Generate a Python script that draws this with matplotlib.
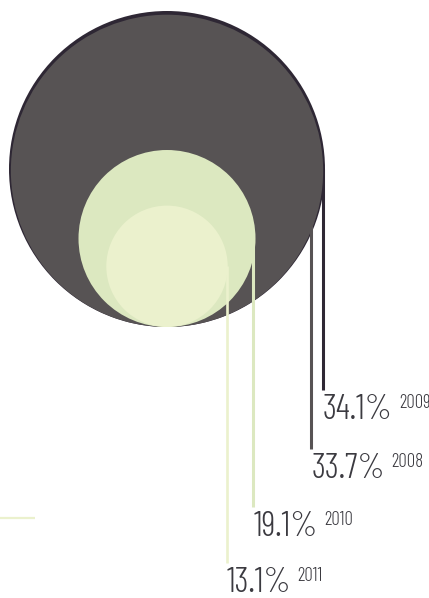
import matplotlib
matplotlib.use("Agg")
import matplotlib.pyplot as plt
from matplotlib.patches import Circle

# Share values by year, drawn from largest to smallest
years = ["2009", "2008", "2010", "2011"]
values = [34.1, 33.7, 19.1, 13.1]
colors = ["#2e2734", "#575354", "#dce8c0", "#ebf1cd"]

W, H = 429, 598
fig = plt.figure(figsize=(W / 100, H / 100), dpi=100)
ax = fig.add_axes([0, 0, 1, 1])
ax.set_xlim(0, W)
ax.set_ylim(H, 0)
ax.set_aspect("equal")
ax.axis("off")

# Circles share a common bottom point; radius is proportional to the value
cx, bottom = 167.0, 327.0
scale = 158.0 / max(values)

# Leader-line insets from each circle's right edge and label baselines
insets = [2, 12, 2, 1]
baselines = [419, 478, 536, 592]
line_w = [2.2, 2.2, 2.2, 1.9]
text_color = "#3b3a40"
font = ["Barlow Condensed", "DejaVu Sans"]
main_pt, sup_pt = 25.0, 13.5
cap_ratio = 0.70  # cap height / em for the label face
px_per_pt = 100 / 72
main_cap = main_pt * px_per_pt * cap_ratio
sup_cap = sup_pt * px_per_pt * cap_ratio

labels = []
for i, (yr, v, c) in enumerate(zip(years, values, colors)):
    r = v * scale
    cy = bottom - r
    ax.add_patch(Circle((cx, cy), r, facecolor=c, edgecolor="none", zorder=2 * i))
    lx = cx + r - insets[i]
    ax.plot([lx, lx], [cy, baselines[i] - main_cap - 5], color=c, lw=line_w[i],
            solid_capstyle="butt", zorder=2 * i + 1)
    t = ax.text(lx, baselines[i], f"{v:.1f}%", fontsize=main_pt, family=font,
                weight=300, color=text_color, va="baseline", ha="left", zorder=20)
    labels.append((t, yr, baselines[i]))

# Short accent rule at the lower left
ax.plot([0, 35], [518, 518], color=colors[3], lw=1.6, solid_capstyle="butt")

# Year tags sit top-aligned just after each value label
fig.canvas.draw()
renderer = fig.canvas.get_renderer()
inv = ax.transData.inverted()
for t, yr, base in labels:
    bb = t.get_window_extent(renderer)
    x_end = inv.transform((bb.x1, bb.y0))[0]
    ax.text(x_end + 6, base - main_cap + sup_cap, yr, fontsize=sup_pt, family=font,
            weight=300, color=text_color, va="baseline", ha="left", zorder=20)

fig.savefig("out.png", dpi=100)
